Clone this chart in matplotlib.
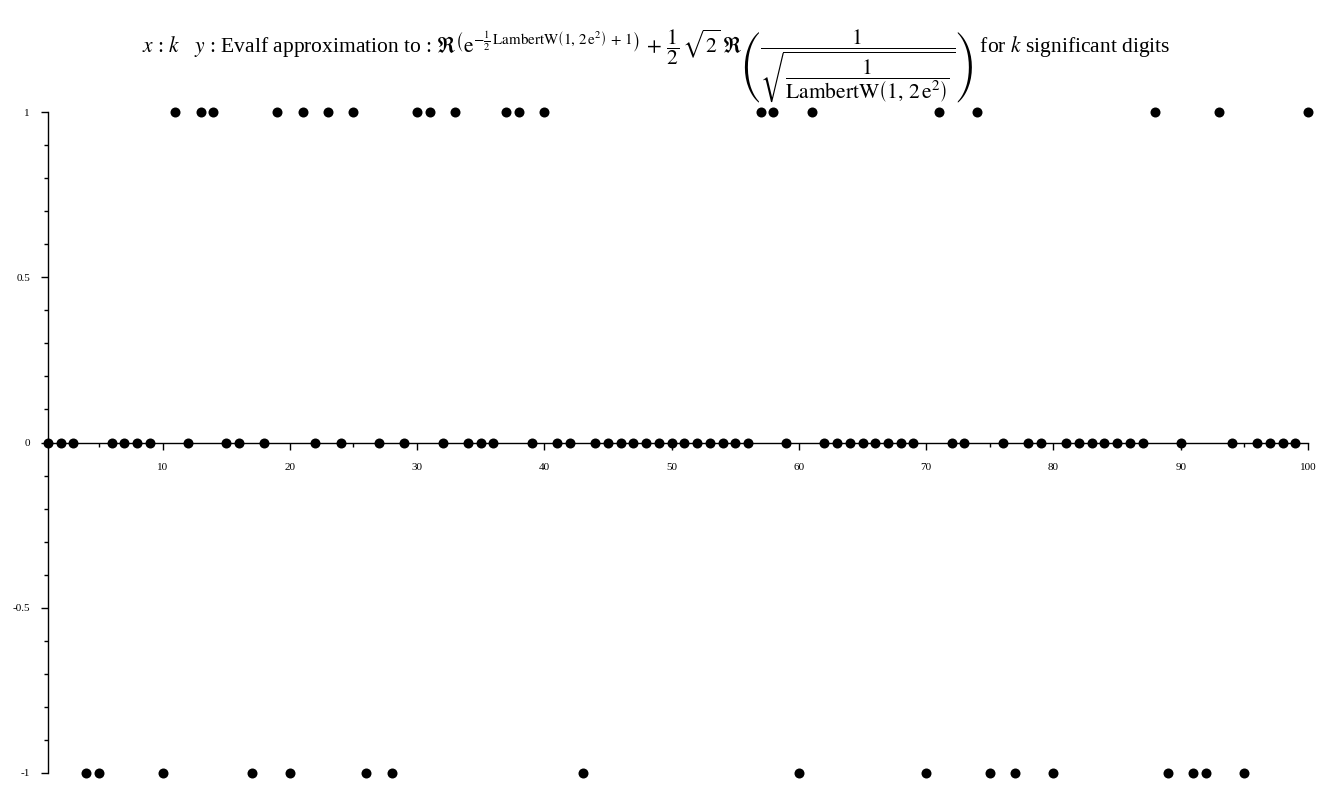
import matplotlib
matplotlib.use("Agg")
import matplotlib.pyplot as plt
from matplotlib.ticker import MultipleLocator, FixedLocator

plt.rcParams['font.family'] = ['Liberation Serif', 'DejaVu Serif']
plt.rcParams['mathtext.fontset'] = 'stix'
plt.rcParams['axes.unicode_minus'] = False

# k = 1..100 significant digits
k_values = list(range(1, 101))
# evalf result for each k
y_values = [
    0, 0, 0, -1, -1, 0, 0, 0, 0, -1,     # 1-10
    1, 0, 1, 1, 0, 0, -1, 0, 1, -1,      # 11-20
    1, 0, 1, 0, 1, -1, 0, -1, 0, 1,      # 21-30
    1, 0, 1, 0, 0, 0, 1, 1, 0, 1,        # 31-40
    0, 0, -1, 0, 0, 0, 0, 0, 0, 0,       # 41-50
    0, 0, 0, 0, 0, 0, 1, 1, 0, -1,       # 51-60
    1, 0, 0, 0, 0, 0, 0, 0, 0, -1,       # 61-70
    1, 0, 0, 1, -1, 0, -1, 0, 0, -1,     # 71-80
    0, 0, 0, 0, 0, 0, 0, 1, -1, 0,       # 81-90
    -1, -1, 1, 0, -1, 0, 0, 0, 0, 1,     # 91-100
]
x_ticks = [10, 20, 30, 40, 50, 60, 70, 80, 90, 100]
y_ticks = [-1, -0.5, 0, 0.5, 1]
y_tick_labels = ["-1", "-0.5", "0", "0.5", "1"]

title = (r"$x$ : $k$   $y$ : Evalf approximation to : "
         r"$\mathrm{\Re}\left(\mathrm{e}^{-\frac{1}{2}\,\mathrm{LambertW}\left(1,\,2\,\mathrm{e}^{2}\right)\,+\,1}\right)"
         r"\,+\,\dfrac{1}{2}\,\sqrt{2}\;\mathrm{\Re}\left(\dfrac{1}{\sqrt{\dfrac{1}{\mathrm{LambertW}\left(1,\,2\,\mathrm{e}^{2}\right)}}}\right)$"
         r" for $k$ significant digits")

fig = plt.figure(figsize=(13.24, 7.88), dpi=100)
ax = fig.add_axes([48/1324, 1-773/788, (1308-48)/1324, (773-112)/788])

ax.scatter(k_values, y_values, s=52, color='black', clip_on=False, zorder=3, linewidths=0)

ax.set_xlim(1, 100)
ax.set_ylim(-1, 1)

ax.spines['top'].set_visible(False)
ax.spines['right'].set_visible(False)
ax.spines['bottom'].set_position(('data', 0))
ax.spines['left'].set_position(('data', 1))
for s in ('bottom', 'left'):
    ax.spines[s].set_linewidth(1.0)

ax.xaxis.set_major_locator(FixedLocator(x_ticks))
ax.xaxis.set_minor_locator(MultipleLocator(5))
ax.set_xticklabels([str(t) for t in x_ticks])
ax.yaxis.set_major_locator(FixedLocator(y_ticks))
ax.yaxis.set_minor_locator(MultipleLocator(0.1))
ax.set_yticklabels(y_tick_labels)

ax.tick_params(axis='x', which='major', direction='out', length=5, width=1, pad=10, labelsize=8)
ax.tick_params(axis='x', which='minor', direction='out', length=3, width=1)
ax.tick_params(axis='y', which='major', direction='out', length=5, width=1, pad=8, labelsize=8)
ax.tick_params(axis='y', which='minor', direction='out', length=3, width=1)

fig.text(0.496, 1 - 66/788, title, ha='center', va='center', fontsize=15.5)

fig.savefig("out.png", dpi=100)
